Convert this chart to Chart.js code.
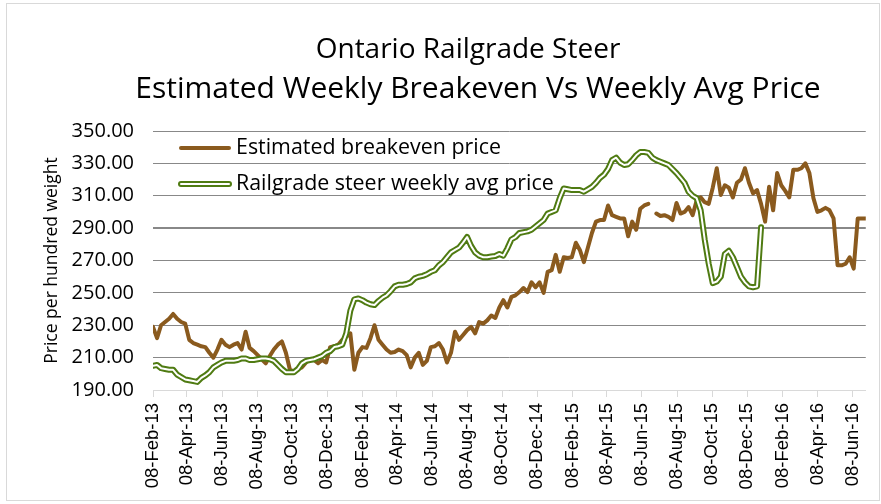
<!DOCTYPE html>
<html>
<head>
<meta charset="utf-8">
<script src="https://cdn.jsdelivr.net/npm/chart.js@4.4.0/dist/chart.umd.min.js"></script>
<style>
  html, body { margin: 0; padding: 0; background: #fff; }
  #wrap { width: 881px; height: 504px; }
</style>
</head>
<body>
<div id="wrap"><canvas id="c" width="881" height="504"></canvas></div>
<script>
// weekly series, first week 08-Feb-13
const titleLines = ['Ontario Railgrade Steer', 'Estimated Weekly Breakeven Vs Weekly Avg Price'];
const seriesNames = ['Estimated breakeven price', 'Railgrade steer weekly avg price'];
const tickLabels = ['08-Feb-13','08-Apr-13','08-Jun-13','08-Aug-13','08-Oct-13','08-Dec-13',
  '08-Feb-14','08-Apr-14','08-Jun-14','08-Aug-14','08-Oct-14','08-Dec-14',
  '08-Feb-15','08-Apr-15','08-Jun-15','08-Aug-15','08-Oct-15','08-Dec-15',
  '08-Feb-16','08-Apr-16','08-Jun-16'];
const yTicks = [190, 210, 230, 250, 270, 290, 310, 330, 350];

const breakeven = [
  229, 222, 230, 232, 234, 237, 234, 232, 231, 221,
  219, 218, 217, 216.5, 213, 210, 215, 221, 218, 216.5,
  218, 219, 215, 226, 216, 214, 211.5, 209, 206.5, 211,
  215, 218, 220, 213, 202.5, 201.5, 203, 204, 207, 209,
  208.5, 206.5, 208.5, 207, 216.5, 217, 218, 221, 223, 225,
  202.5, 213, 216.5, 216, 222, 230, 221, 218, 215, 213,
  213.5, 215, 214, 211.5, 204, 210, 213, 205.5, 208, 216.5,
  217, 219, 215, 207, 213, 226, 221, 224, 227, 229,
  225, 232, 231, 233, 236, 234.5, 241, 245.5, 241, 247.5,
  248.5, 250.5, 253, 250.5, 256.5, 253.5, 256.5, 250, 263, 264,
  273.5, 263, 272, 271.5, 272, 281, 276.5, 269, 278, 287,
  294, 295, 295, 304, 298, 297, 296, 296, 285, 294,
  289, 302, 304, 305, null, 299, 297.5, 298, 297, 295,
  305.5, 299, 300, 303, 298, 307, 309, 306, 305, 315,
  327, 310.5, 316.5, 315, 309, 318, 320, 327, 318, 311.5,
  313.5, 305, 294, 315.5, 301, 324, 316.5, 313, 309, 326,
  326, 327, 330, 324, 308.5, 300, 301, 302.5, 301, 296,
  267, 267, 268, 272, 265, 296, 296, 296
];

const steerAvg = [
  205, 205.5, 203.5, 203, 202.5, 202.5, 199.5, 198, 196.5, 196,
  195.5, 195, 197.5, 199, 201, 204, 205.5, 207, 208, 208,
  208, 208.5, 209.5, 209.5, 208.5, 208.5, 209, 209.5, 209.5, 209,
  208, 205.5, 203, 201, 201, 201, 203, 206.5, 208, 208.5,
  209, 210, 211, 213, 214, 216.5, 217, 218, 225, 239,
  246, 246.5, 245.5, 244, 243, 242.5, 245, 247, 248.5, 251,
  254, 255, 255, 255.5, 256.5, 259, 260, 260.5, 261.5, 263,
  264, 267, 269, 272, 275, 276.5, 278, 281, 284.5, 279,
  275, 273, 272, 272, 272.5, 272.8, 274, 273, 277.5, 283,
  284.5, 287, 287.5, 288, 289, 291, 293, 295, 299, 300,
  301, 308.5, 314.5, 314, 313.5, 313.5, 313.5, 312.5, 314, 315.5,
  318, 321, 323, 326.5, 332, 333.5, 330.5, 329, 329.5, 332,
  335, 337, 337, 336.5, 333.5, 332, 331, 330, 329, 326.5,
  324, 321, 318, 312.5, 310, 308.5, 301, 283, 268, 256,
  257, 260, 274, 276, 272, 266, 260, 256.5, 254, 253.5,
  254, 290.5
];

const brown = '#8a5a1e';
const green = '#4f7b12';

const monthIdx = {Jan:0,Feb:1,Mar:2,Apr:3,May:4,Jun:5,Jul:6,Aug:7,Sep:8,Oct:9,Nov:10,Dec:11};
const dayMs = 86400000;
const start = Date.UTC(2013, 1, 8);
function dayOf(label) {
  const p = label.split('-');
  return (Date.UTC(2000 + +p[2], monthIdx[p[1]], +p[0]) - start) / dayMs;
}
const tickDays = tickLabels.map(dayOf);
const weekDays = breakeven.map((v, i) => i * 7);

const pts = arr => arr.map((v, i) => ({x: weekDays[i], y: v}));

const titlePlugin = {
  id: 'titleAndFrame',
  afterDraw(chart) {
    const ctx = chart.ctx;
    ctx.save();
    ctx.strokeStyle = '#d9d9d9';
    ctx.lineWidth = 1;
    ctx.strokeRect(6.5, 3.5, 873, 497);
    ctx.fillStyle = '#000';
    ctx.textAlign = 'center';
    ctx.textBaseline = 'middle';
    ctx.font = '28px "Open Sans"';
    ctx.fillText(titleLines[0], 468, 50);
    ctx.font = '30px "Open Sans"';
    ctx.fillText(titleLines[1], 478, 89);

    // legend inside plot area
    ctx.textAlign = 'left';
    ctx.font = '21.4px "Open Sans"';
    ctx.lineCap = 'round';
    ctx.strokeStyle = brown;
    ctx.lineWidth = 4;
    ctx.beginPath(); ctx.moveTo(181, 148); ctx.lineTo(229, 148); ctx.stroke();
    ctx.fillText(seriesNames[0], 236, 148);
    ctx.strokeStyle = green;
    ctx.lineWidth = 6;
    ctx.beginPath(); ctx.moveTo(181, 184); ctx.lineTo(229, 184); ctx.stroke();
    ctx.strokeStyle = '#fff';
    ctx.lineWidth = 2;
    ctx.beginPath(); ctx.moveTo(181, 184); ctx.lineTo(229, 184); ctx.stroke();
    ctx.fillText(seriesNames[1], 236, 184);
    ctx.restore();
  }
};

new Chart(document.getElementById('c'), {
  type: 'line',
  data: {
    datasets: [
      { label: 'inner', data: pts(steerAvg), borderColor: '#fff', borderWidth: 2, order: 0 },
      { label: seriesNames[1], data: pts(steerAvg), borderColor: green, borderWidth: 6, order: 1 },
      { label: seriesNames[0], data: pts(breakeven), borderColor: brown, borderWidth: 4, order: 2 }
    ]
  },
  options: {
    responsive: false,
    animation: false,
    spanGaps: false,
    elements: {
      point: { radius: 0 },
      line: { tension: 0, borderJoinStyle: 'round', borderCapStyle: 'round' }
    },
    layout: { padding: { top: 131, right: 14, left: 0, bottom: 0 } },
    plugins: { legend: { display: false }, tooltip: { enabled: false }, title: { display: false } },
    scales: {
      x: {
        type: 'linear',
        min: 0,
        max: 1239,
        afterBuildTicks: s => { s.ticks = tickDays.map(v => ({ value: v })); },
        afterFit: s => { s.height = 114; },
        ticks: {
          autoSkip: false,
          maxRotation: 90,
          minRotation: 90,
          padding: 6,
          color: '#000',
          font: { family: '"Liberation Sans"', size: 18.5 },
          callback: (v, i) => tickLabels[i]
        },
        grid: { drawOnChartArea: false, color: '#d9d9d9', tickLength: 7 },
        border: { color: '#d9d9d9' }
      },
      y: {
        min: 190,
        max: 350,
        afterBuildTicks: s => { s.ticks = yTicks.map(v => ({ value: v })); },
        afterFit: s => { s.width = 153; },
        ticks: {
          padding: 19,
          color: '#000',
          font: { family: '"Open Sans"', size: 20 },
          callback: v => v.toFixed(2)
        },
        grid: {
          color: '#888',
          lineWidth: c => (c.tick && c.tick.value === 290 ? 2 : 1),
          drawTicks: false
        },
        border: { display: false },
        title: {
          display: true,
          text: 'Price per hundred weight',
          color: '#000',
          font: { family: '"Open Sans"', size: 17.5 },
          padding: { top: 42, bottom: 0 }
        }
      }
    }
  },
  plugins: [titlePlugin]
});
</script>
</body>
</html>
